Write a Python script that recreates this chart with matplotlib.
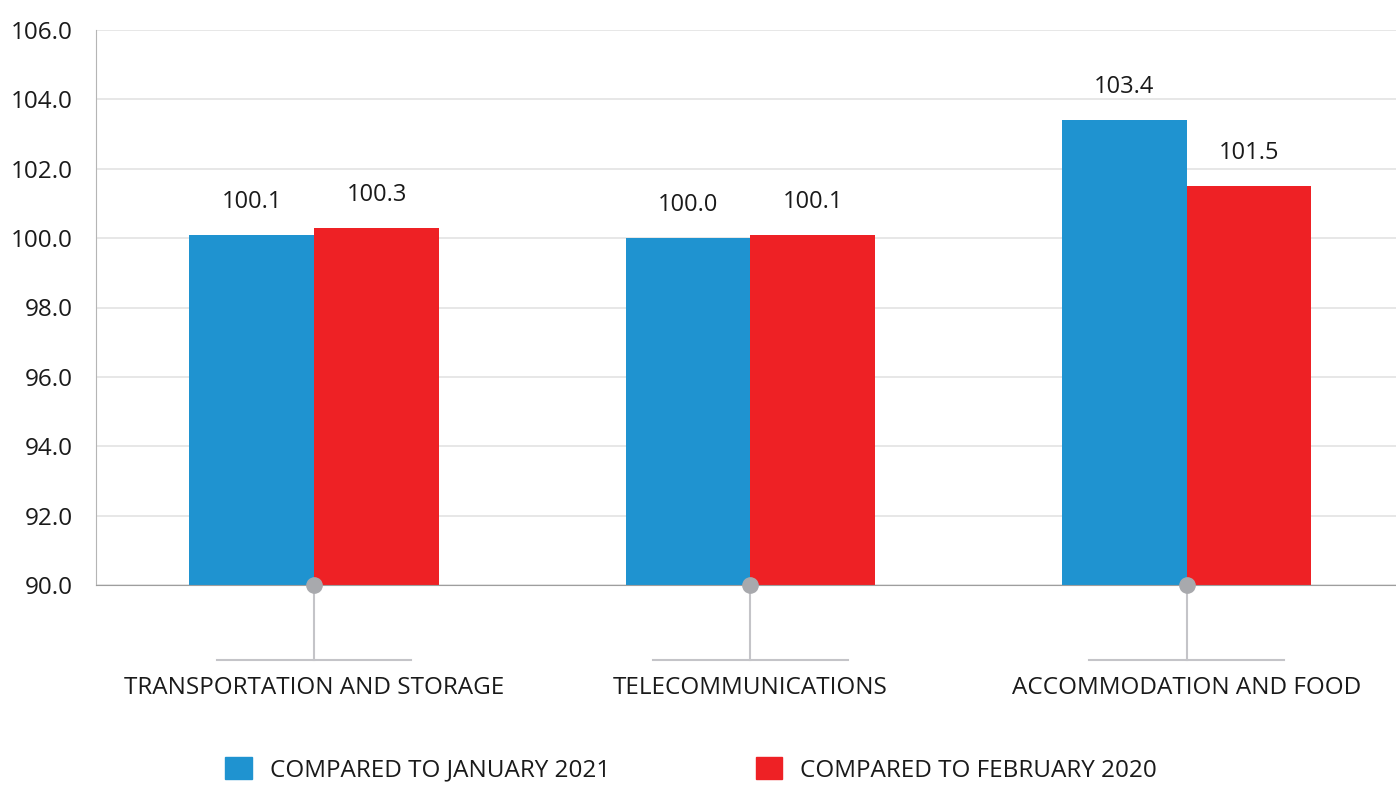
import matplotlib
matplotlib.use("Agg")
import matplotlib.pyplot as plt
from matplotlib.patches import Patch

# Data
categories = ["TRANSPORTATION AND STORAGE", "TELECOMMUNICATIONS", "ACCOMMODATION AND FOOD"]
jan_2021 = [100.1, 100.0, 103.4]
feb_2020 = [100.3, 100.1, 101.5]
series_labels = ["COMPARED TO JANUARY 2021", "COMPARED TO FEBRUARY 2020"]

BLUE = "#1f93d0"
RED = "#ee2125"
GRAY = "#a8a9ad"

plt.rcParams["font.family"] = ["Open Sans", "DejaVu Sans"]

fig = plt.figure(figsize=(13.96, 7.85), dpi=100)
ax = fig.add_axes([96 / 1396, 1 - 585 / 785, 1 - 96 / 1396, 555 / 785])

width = 0.286
x = list(range(len(categories)))
ax.bar([i - width / 2 for i in x], [v - 90 for v in jan_2021], width, bottom=90, color=BLUE, zorder=3)
ax.bar([i + width / 2 for i in x], [v - 90 for v in feb_2020], width, bottom=90, color=RED, zorder=3)

for i in x:
    ax.text(i - width / 2, jan_2021[i] + 0.6, f"{jan_2021[i]:.1f}", ha="center", va="bottom",
            fontsize=17, color="#1a1a1a")
    ax.text(i + width / 2, feb_2020[i] + 0.6, f"{feb_2020[i]:.1f}", ha="center", va="bottom",
            fontsize=17, color="#1a1a1a")

ax.set_ylim(90, 106)
ax.set_xlim(-0.5, 2.48)
ax.set_yticks([90, 92, 94, 96, 98, 100, 102, 104, 106])
ax.set_yticklabels([f"{t:.1f}" for t in ax.get_yticks()], fontsize=17.5, color="#1a1a1a")
ax.set_xticks([])
ax.tick_params(axis="y", length=0, pad=17)
ax.grid(axis="y", color="#e3e3e3", linewidth=1.2, zorder=0)

for s in ["top", "right"]:
    ax.spines[s].set_visible(False)
ax.spines["left"].set_color("#b5b5b5")
ax.spines["bottom"].set_color("#9e9e9e")
ax.spines["bottom"].set_zorder(4)

# category connectors under the axis
for i, name in enumerate(categories):
    ax.plot([i, i], [90, 87.84], color="#c4c4c8", lw=1.5, clip_on=False, zorder=2)
    ax.plot([i - 0.223, i + 0.223], [87.84, 87.84], color="#c4c4c8", lw=1.5, clip_on=False)
    ax.plot(i, 90, "o", color=GRAY, markersize=11, clip_on=False, zorder=5)
    ax.text(i, 87.03, name, ha="center", va="center", fontsize=17.5, color="#1a1a1a")

handles = [Patch(color=BLUE), Patch(color=RED)]
fig.legend(handles, series_labels, loc="center left", bbox_to_anchor=(203 / 1396, 1 - 770 / 785),
           ncol=2, frameon=False, fontsize=17.5, handlelength=1.1, handleheight=1.0,
           columnspacing=6.0, handletextpad=0.74, labelcolor="#1a1a1a")

fig.savefig("out.png", dpi=100)
